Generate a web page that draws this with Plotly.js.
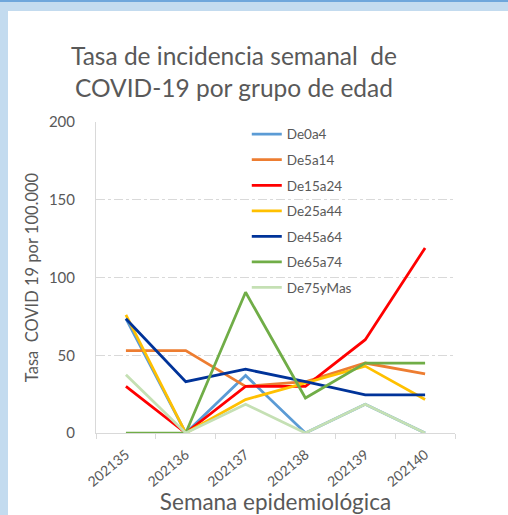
<!DOCTYPE html>
<html>
<head>
<meta charset="utf-8">
<script src="https://cdn.plot.ly/plotly-3.0.1.min.js"></script>
<style>
  html, body { margin:0; padding:0; width:508px; height:515px; overflow:hidden; background:#c3dbef; }
  #topline { position:absolute; left:0; top:0; width:508px; height:2px; background:#6ea6db; }
  #card { position:absolute; left:8px; top:11px; width:500px; height:504px; background:#ffffff; }
  #chart { position:absolute; left:0; top:0; width:508px; height:515px; }
</style>
</head>
<body>
<div id="topline"></div>
<div id="card"></div>
<div id="chart"></div>
<script>
const semanas = ["202135", "202136", "202137", "202138", "202139", "202140"];
const seriesNames = ["De0a4", "De5a14", "De15a24", "De25a44", "De45a64", "De65a74", "De75yMas"];
const De0a4    = [73.5, 0, 37, 0, 18.5, 0];
const De5a14   = [53, 53, 30, 33, 45, 38];
const De15a24  = [30, 0, 30, 30, 60, 119];
const De25a44  = [76, 0, 21.5, 32, 43, 21.5];
const De45a64  = [73.5, 33, 41, 33, 24.5, 24.5];
const De65a74  = [0, 0, 90.5, 22.5, 45, 45];
const De75yMas = [37.5, 0, 18.5, 0, 18.5, 0];
const seriesValues = [De0a4, De5a14, De15a24, De25a44, De45a64, De65a74, De75yMas];
const seriesColors = ["#5b9bd5", "#ed7d31", "#ff0000", "#ffc000", "#003399", "#70ad47", "#c5e0b4"];

const FONT = "Lato, 'Open Sans', sans-serif";
const TXT = "#595959";

const traces = seriesNames.map((n, i) => ({
  type: "scatter",
  mode: "lines",
  name: n,
  x: semanas,
  y: seriesValues[i],
  line: { color: seriesColors[i], width: 2.75 },
  legendgroup: n
}));

const layout = {
  width: 508,
  height: 515,
  paper_bgcolor: "rgba(0,0,0,0)",
  plot_bgcolor: "rgba(0,0,0,0)",
  margin: { l: 96, r: 53, t: 122, b: 82, pad: 0 },
  font: { family: FONT, color: TXT },
  title: {
    text: "Tasa de incidencia semanal  de<br>COVID-19 por grupo de edad",
    font: { family: FONT, size: 24.5, color: TXT },
    x: 0.4606, xanchor: "center", xref: "container",
    y: 0.874, yanchor: "middle", yref: "container"
  },
  xaxis: {
    type: "category",
    range: [-0.5, 5.5],
    tickangle: -40,
    tickfont: { size: 14, color: TXT, family: FONT },
    showline: true, linecolor: "#d9d9d9", linewidth: 1,
    ticks: "outside", ticklen: 5, tickcolor: "#d9d9d9",
    tickson: "boundaries",
    showgrid: false, zeroline: false,
    automargin: false, ticklabelstandoff: 7,
    title: { text: "Semana epidemiológica", font: { size: 22.5, color: TXT, family: FONT }, standoff: 12 }
  },
  yaxis: {
    range: [0, 200], dtick: 50, tick0: 0,
    tickfont: { size: 15, color: TXT, family: FONT },
    showline: true, linecolor: "#d9d9d9", linewidth: 1,
    ticks: "", showgrid: true, gridcolor: "#d9d9d9", griddash: "dashdot", gridwidth: 1,
    zeroline: false, automargin: false, ticklabelstandoff: 17,
    title: { text: "Tasa  COVID 19 por 100.000", font: { size: 16.5, color: TXT, family: FONT }, standoff: 6 }
  },
  showlegend: true,
  legend: {
    x: 0.42, xanchor: "left", y: 1.01, yanchor: "top",
    bgcolor: "rgba(0,0,0,0)",
    font: { size: 13.5, color: TXT, family: FONT },
    traceorder: "grouped", tracegroupgap: 5
  }
};

Plotly.newPlot("chart", traces, layout, { displayModeBar: false, staticPlot: true });
</script>
</body>
</html>
